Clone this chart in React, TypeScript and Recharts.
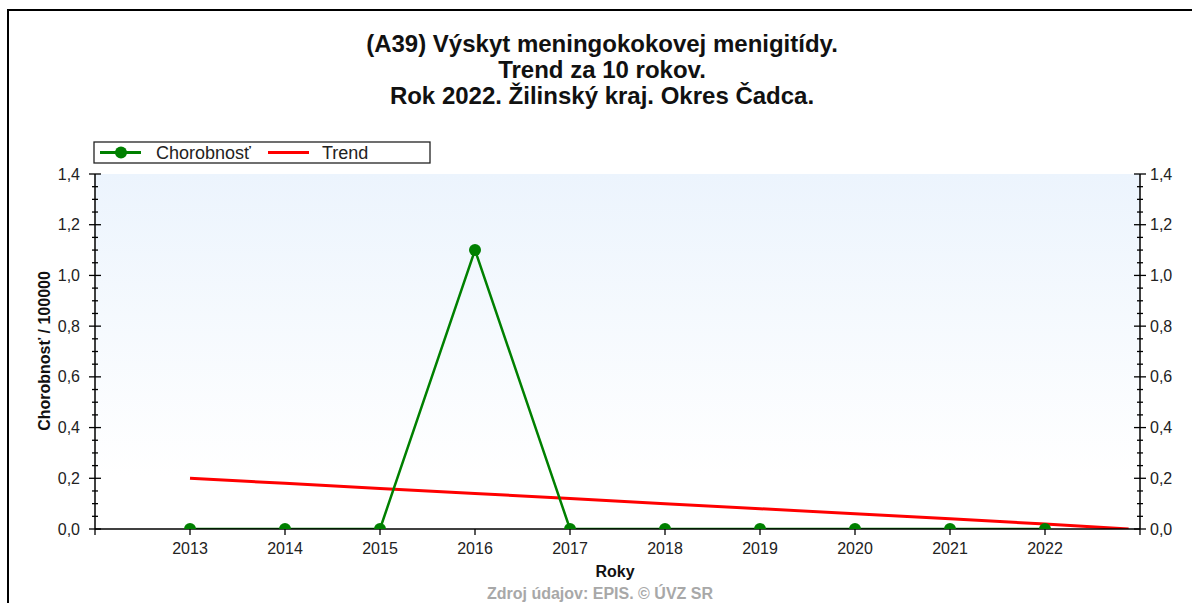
import React from 'react';
import { LineChart, Line, XAxis, YAxis, ReferenceArea } from 'recharts';

// ---- data ----
const years = [2013, 2014, 2015, 2016, 2017, 2018, 2019, 2020, 2021, 2022];
const incidence = [0, 0, 0, 1.1, 0, 0, 0, 0, 0, 0];
const trendYears = [2013, 2014, 2015, 2016, 2017, 2018, 2019, 2020, 2021, 2022, 2022.88];
const trendValues = [0.2, 0.18, 0.16, 0.14, 0.12, 0.1, 0.08, 0.06, 0.04, 0.02, 0.0];
const xDomain = [2012, 2023];
const xTicks = [2012, 2013, 2014, 2015, 2016, 2017, 2018, 2019, 2020, 2021, 2022, 2023];
const yDomain = [0, 1.4];
const yTicks = [0, 0.05, 0.1, 0.15, 0.2, 0.25, 0.3, 0.35, 0.4, 0.45, 0.5, 0.55, 0.6, 0.65, 0.7, 0.75, 0.8, 0.85, 0.9, 0.95, 1.0, 1.05, 1.1, 1.15, 1.2, 1.25, 1.3, 1.35, 1.4];
const yMajor = [0, 0.2, 0.4, 0.6, 0.8, 1.0, 1.2, 1.4];
const titleLines = [
  '(A39) Výskyt meningokokovej menigitídy.',
  'Trend za 10 rokov.',
  'Rok 2022. Žilinský kraj. Okres Čadca.',
];
const seriesNames = ['Chorobnosť', 'Trend'];
const seriesColors = ['#008000', '#ff0000'];
const yLabel = 'Chorobnosť / 100000';
const xLabel = 'Roky';
const footer = 'Zdroj údajov: EPIS. © ÚVZ SR';

const incidenceData = years.map((y, i) => ({ year: y, value: incidence[i] }));
const trendData = trendYears.map((y, i) => ({ year: y, value: trendValues[i] }));

const FONT = 'Arial, "Liberation Sans", sans-serif';

const isMajor = (v: number) => yMajor.some((m) => Math.abs(m - v) < 1e-6);
const fmt = (v: number) => v.toFixed(1).replace('.', ',');

const LeftTick = (props: any) => {
  const { x, y, payload } = props;
  const major = isMajor(payload.value);
  const l = major ? 6 : 3;
  return (
    <g>
      <line x1={x - l} x2={x + l} y1={y} y2={y} stroke="#000" strokeWidth={1.3} />
      {major && (
        <text x={x - 15} y={y} dy={5.5} textAnchor="end" fontSize={16} fontFamily={FONT} fill="#222">
          {fmt(payload.value)}
        </text>
      )}
    </g>
  );
};

const RightTick = (props: any) => {
  const { x, y, payload } = props;
  const major = isMajor(payload.value);
  const l = major ? 6 : 3;
  return (
    <g>
      <line x1={x - l} x2={x + l} y1={y} y2={y} stroke="#000" strokeWidth={1.3} />
      {major && (
        <text x={x + 10} y={y} dy={5.5} textAnchor="start" fontSize={16} fontFamily={FONT} fill="#222">
          {fmt(payload.value)}
        </text>
      )}
    </g>
  );
};

const BottomTick = (props: any) => {
  const { x, y, payload } = props;
  const labelled = years.includes(payload.value);
  return (
    <g>
      <line x1={x} x2={x} y1={y} y2={y + 6} stroke="#000" strokeWidth={1.3} />
      {labelled && (
        <text x={x} y={y + 25} textAnchor="middle" fontSize={16} fontFamily={FONT} fill="#222">
          {payload.value}
        </text>
      )}
    </g>
  );
};

const TopTick = (props: any) => {
  const { x, y, payload } = props;
  if (!years.includes(payload.value)) return <g />;
  return <line x1={x} x2={x} y1={y} y2={y + 5} stroke="#000" strokeWidth={1.3} />;
};

export default function App() {
  return (
    <div style={{ position: 'absolute', left: 0, top: 0, width: 1192, height: 603, background: '#fff', overflow: 'hidden' }}>
      <div style={{ position: 'absolute', left: 7, top: 9, width: 1200, height: 700, borderLeft: '2px solid #000', borderTop: '2px solid #000' }} />
      <div style={{ position: 'absolute', left: 0, top: 0 }}>
        <LineChart width={1192} height={603} margin={{ top: 174, right: 0, bottom: 44, left: 0 }}>
          <defs>
            <linearGradient id="bgGrad" x1="0" y1="0" x2="0" y2="1">
              <stop offset="0%" stopColor="#ecf4fd" />
              <stop offset="85%" stopColor="#ffffff" />
              <stop offset="100%" stopColor="#ffffff" />
            </linearGradient>
          </defs>
          <XAxis
            xAxisId="bottom"
            dataKey="year"
            type="number"
            domain={xDomain}
            ticks={xTicks}
            interval={0}
            height={30}
            tickSize={0}
            tickMargin={0}
            tick={<BottomTick />}
            axisLine={{ stroke: '#000', strokeWidth: 1.5 }}
            tickLine={false}
            allowDataOverflow
          />
          <XAxis
            xAxisId="top"
            orientation="top"
            dataKey="year"
            type="number"
            domain={xDomain}
            ticks={xTicks}
            interval={0}
            height={0}
            tickSize={0}
            tickMargin={0}
            tick={<TopTick />}
            axisLine={{ stroke: '#000', strokeWidth: 1.5 }}
            tickLine={false}
          />
          <YAxis
            yAxisId="left"
            type="number"
            domain={yDomain}
            ticks={yTicks}
            interval={0}
            width={95}
            tickSize={0}
            tickMargin={0}
            tick={<LeftTick />}
            axisLine={{ stroke: '#000', strokeWidth: 1.5 }}
            tickLine={false}
            allowDataOverflow
          />
          <YAxis
            yAxisId="right"
            orientation="right"
            type="number"
            domain={yDomain}
            ticks={yTicks}
            interval={0}
            width={52}
            tickSize={0}
            tickMargin={0}
            tick={<RightTick />}
            axisLine={{ stroke: '#000', strokeWidth: 1.5 }}
            tickLine={false}
            allowDataOverflow
          />
          <ReferenceArea
            xAxisId="bottom"
            yAxisId="left"
            x1={xDomain[0]}
            x2={xDomain[1]}
            y1={yDomain[0]}
            y2={yDomain[1]}
            fill="url(#bgGrad)"
            fillOpacity={1}
            stroke="none"
          />
          <Line
            xAxisId="bottom"
            yAxisId="left"
            data={trendData}
            dataKey="value"
            type="linear"
            stroke={seriesColors[1]}
            strokeWidth={3}
            dot={false}
            activeDot={false}
            isAnimationActive={false}
            name={seriesNames[1]}
          />
          <Line
            xAxisId="bottom"
            yAxisId="left"
            data={incidenceData}
            dataKey="value"
            type="linear"
            stroke={seriesColors[0]}
            strokeWidth={2.5}
            dot={{ r: 6, fill: seriesColors[0], stroke: 'none' }}
            activeDot={false}
            isAnimationActive={false}
            name={seriesNames[0]}
          />
        </LineChart>
      </div>
      <svg width={1192} height={603} style={{ position: 'absolute', left: 0, top: 0, pointerEvents: 'none' }}>
        {titleLines.map((t, i) => (
          <text key={i} x={602} y={52 + i * 26} textAnchor="middle" fontSize={24} fontWeight="bold" fontFamily={FONT} fill="#111">
            {t}
          </text>
        ))}
        <rect x={94} y={142} width={336} height={21} fill="#fff" stroke="#222" strokeWidth={1.3} />
        <line x1={100} x2={141} y1={152.5} y2={152.5} stroke={seriesColors[0]} strokeWidth={3} />
        <circle cx={121} cy={152.5} r={6} fill={seriesColors[0]} />
        <text x={156} y={159} fontSize={18} fontFamily={FONT} fill="#222">{seriesNames[0]}</text>
        <line x1={268} x2={309} y1={152.5} y2={152.5} stroke={seriesColors[1]} strokeWidth={3} />
        <text x={322} y={159} fontSize={18} fontFamily={FONT} fill="#222">{seriesNames[1]}</text>
        <text
          x={0}
          y={0}
          transform="translate(50,351) rotate(-90)"
          textAnchor="middle"
          fontSize={16}
          fontWeight="bold"
          fontFamily={FONT}
          fill="#111"
        >
          {yLabel}
        </text>
        <text x={615} y={577} textAnchor="middle" fontSize={16} fontWeight="bold" fontFamily={FONT} fill="#111">
          {xLabel}
        </text>
        <text x={600} y={599} textAnchor="middle" fontSize={16} fontWeight="bold" fontFamily={FONT} fill="#a8a8a8">
          {footer}
        </text>
      </svg>
    </div>
  );
}
